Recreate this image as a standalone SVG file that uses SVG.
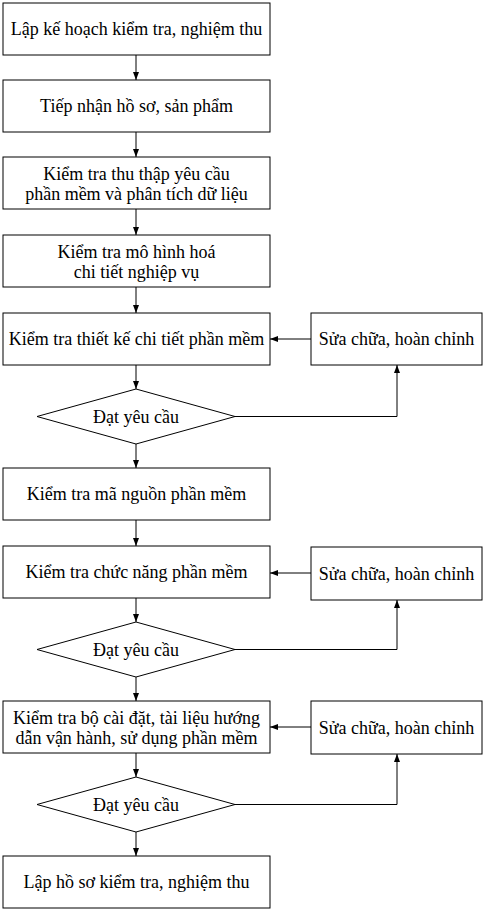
<svg xmlns="http://www.w3.org/2000/svg" width="486" height="912" viewBox="0 0 486 912">
<style>
.b{fill:#fff;stroke:#000;stroke-width:1}
.t{font-family:'Liberation Serif',serif;font-size:18px;fill:#000;text-anchor:middle}
.c{fill:none;stroke:#000;stroke-width:1}
</style>
<defs>
<marker id="ah" viewBox="0 0 8 8" refX="8" refY="4" markerWidth="8" markerHeight="8" markerUnits="userSpaceOnUse" orient="auto">
<path d="M0,1 L8,4 L0,7 Z" fill="#000"/>
</marker>
</defs>
<rect width="486" height="912" fill="#fff"/>
<g id="connectors">
<line class="c" x1="136" y1="55" x2="136" y2="80" marker-end="url(#ah)"/>
<line class="c" x1="136" y1="132" x2="136" y2="157" marker-end="url(#ah)"/>
<line class="c" x1="136" y1="209" x2="136" y2="235" marker-end="url(#ah)"/>
<line class="c" x1="136" y1="287" x2="136" y2="313" marker-end="url(#ah)"/>
<line class="c" x1="136" y1="365" x2="136" y2="389" marker-end="url(#ah)"/>
<line class="c" x1="136" y1="444" x2="136" y2="468" marker-end="url(#ah)"/>
<line class="c" x1="136" y1="520" x2="136" y2="546" marker-end="url(#ah)"/>
<line class="c" x1="136" y1="598" x2="136" y2="622" marker-end="url(#ah)"/>
<line class="c" x1="136" y1="677" x2="136" y2="701" marker-end="url(#ah)"/>
<line class="c" x1="136" y1="753" x2="136" y2="777" marker-end="url(#ah)"/>
<line class="c" x1="136" y1="832" x2="136" y2="856" marker-end="url(#ah)"/>
<polyline class="c" points="235,416.5 397,416.5 397,365" marker-end="url(#ah)"/>
<polyline class="c" points="235,649.5 397,649.5 397,600" marker-end="url(#ah)"/>
<polyline class="c" points="235,804.5 397,804.5 397,754" marker-end="url(#ah)"/>
<line class="c" x1="311" y1="339" x2="270" y2="339" marker-end="url(#ah)"/>
<line class="c" x1="311" y1="573" x2="270" y2="573" marker-end="url(#ah)"/>
<line class="c" x1="311" y1="727" x2="270" y2="727" marker-end="url(#ah)"/>
</g>
<g id="n1"><rect class="b" x="3" y="3" width="267" height="52"/><text class="t" x="136.5" y="35">Lập kế hoạch kiểm tra, nghiệm thu</text></g>
<g id="n2"><rect class="b" x="3" y="80" width="267" height="52"/><text class="t" x="136.5" y="112">Tiếp nhận hồ sơ, sản phẩm</text></g>
<g id="n3"><rect class="b" x="3" y="157" width="267" height="52"/><text class="t" x="136.5" y="180">Kiểm tra thu thập yêu cầu</text><text class="t" x="136.5" y="200">phần mềm và phân tích dữ liệu</text></g>
<g id="n4"><rect class="b" x="3" y="235" width="267" height="52"/><text class="t" x="136.5" y="258">Kiểm tra mô hình hoá</text><text class="t" x="136.5" y="278">chi tiết nghiệp vụ</text></g>
<g id="n5"><rect class="b" x="3" y="313" width="267" height="52"/><text class="t" x="136.5" y="345">Kiểm tra thiết kế chi tiết phần mềm</text></g>
<g id="r1"><rect class="b" x="311" y="313" width="171" height="52"/><text class="t" x="396.5" y="345">Sửa chữa, hoàn chỉnh</text></g>
<g id="d1"><polygon class="b" points="136,389 235,416.5 136,444 37,416.5"/><text class="t" x="136" y="422.5">Đạt yêu cầu</text></g>
<g id="n6"><rect class="b" x="3" y="468" width="267" height="52"/><text class="t" x="136.5" y="500">Kiểm tra mã nguồn phần mềm</text></g>
<g id="n7"><rect class="b" x="3" y="546" width="267" height="52"/><text class="t" x="136.5" y="578">Kiểm tra chức năng phần mềm</text></g>
<g id="r2"><rect class="b" x="311" y="547" width="171" height="53"/><text class="t" x="396.5" y="579.5">Sửa chữa, hoàn chỉnh</text></g>
<g id="d2"><polygon class="b" points="136,622 235,649.5 136,677 37,649.5"/><text class="t" x="136" y="655.5">Đạt yêu cầu</text></g>
<g id="n8"><rect class="b" x="3" y="701" width="267" height="52"/><text class="t" x="136.5" y="724">Kiểm tra bộ cài đặt, tài liệu hướng</text><text class="t" x="136.5" y="744">dẫn vận hành, sử dụng phần mềm</text></g>
<g id="r3"><rect class="b" x="311" y="701" width="171" height="53"/><text class="t" x="396.5" y="733.5">Sửa chữa, hoàn chỉnh</text></g>
<g id="d3"><polygon class="b" points="136,777 235,804.5 136,832 37,804.5"/><text class="t" x="136" y="810.5">Đạt yêu cầu</text></g>
<g id="n9"><rect class="b" x="3" y="856" width="267" height="52"/><text class="t" x="136.5" y="888">Lập hồ sơ kiểm tra, nghiệm thu</text></g>
</svg>
